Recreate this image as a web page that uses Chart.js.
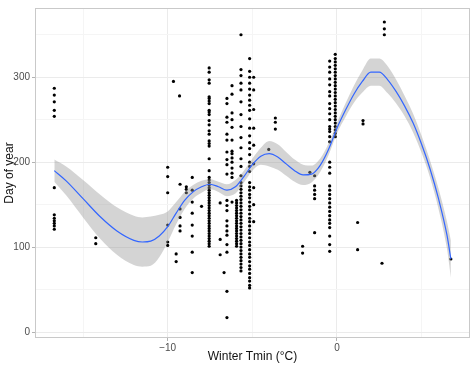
<!DOCTYPE html>
<html>
<head>
<meta charset="utf-8">
<script src="https://cdn.jsdelivr.net/npm/chart.js@4/dist/chart.umd.min.js"></script>
<style>
html,body{margin:0;padding:0;background:#fff;}
#c{display:block;}
</style>
</head>
<body>
<canvas id="c" width="474" height="366"></canvas>
<script>
// ---- Data ----
// Observation columns: x position (Winter Tmin, °C) and the day-of-year values at that x
const colX = [-16.7, -14.25, -10.0, -9.66, -9.3, -9.5, -9.27, -8.9, -8.55, -8.0,
  -7.55, -6.9, -6.67, -6.5, -6.2, -5.93, -5.67, -5.16, -4.92, -4.03, -3.64,
  -2.03, -1.6, -1.32, -0.43, -0.1, 1.54, 1.22, 2.8, 2.66, 6.73];
const colY = [
  [287, 279, 271, 261, 254, 170, 138, 134, 131, 128, 125, 121],
  [111, 104],
  [194, 183, 164, 126, 106, 102],
  [295],
  [278],
  [92, 83],
  [174, 145, 135, 125, 119],
  [171, 168, 164],
  [182, 167, 153, 140, 126, 113, 94, 70],
  [148],
  [311, 306, 297, 293, 277, 275, 272, 269, 261, 259, 256, 249, 244, 237, 233, 225, 222, 219, 204, 190,
   182, 179, 176, 173, 170, 167, 164, 161, 158, 155, 152, 149, 146, 143, 140, 137, 134, 131, 128, 125,
   122, 119, 116, 113, 110, 107, 104, 101],
  [152, 109, 91],
  [70],
  [275, 269, 253, 247, 233, 226, 212, 203, 197, 186, 155, 149, 143, 131, 125, 119, 114, 103, 94, 48, 17],
  [290, 280, 258, 250, 241, 226, 213, 210, 205, 200, 193, 187, 182, 153],
  [155, 152, 149, 146, 143, 140, 137, 134, 131, 128, 125, 122, 119, 116, 113, 110, 107, 104, 101],
  [350, 309, 302, 293, 285, 271, 256, 242, 229, 217, 204, 195, 184, 176, 172, 168, 164, 160, 156, 152,
   148, 144, 140, 136, 132, 128, 124, 120, 116, 112, 108, 104, 100, 96, 92, 88, 84, 80, 76, 72],
  [322, 307, 300, 293, 286, 279, 273, 267, 261, 251, 240, 231, 223, 216, 209, 200, 195, 189, 176, 171,
   167, 162, 158, 153, 148, 144, 139, 134, 130, 125, 120, 116, 111, 106, 102, 97, 92, 88, 83, 78, 74,
   69, 64, 60, 55, 52],
  [300, 285, 262, 240, 220, 198, 170, 150, 130],
  [215],
  [252, 247, 239],
  [101, 93],
  [188],
  [184, 172, 167, 162, 157, 117],
  [319, 312, 306, 298, 291, 283, 278, 269, 263, 257, 250, 242, 239, 236, 230, 224, 200, 194, 187, 172,
   167, 162, 157, 152, 147, 142, 137, 132, 128, 123, 113, 103, 95],
  [327, 322, 318, 314, 310, 306, 302, 298, 294, 290, 286, 282, 278, 274, 270, 266, 262, 258, 254, 250,
   246, 242, 238, 234, 230],
  [249, 245],
  [129, 97],
  [365, 357, 350],
  [81],
  [86]
];

// Smoothed fit (loess) and its confidence band
const smoothX  = [-16.7, -16.0, -15.0, -14.0, -13.0, -12.0, -11.5, -11.0, -10.5, -10.0, -9.5, -9.0, -8.5,
  -8.0, -7.5, -7.0, -6.5, -6.0, -5.5, -5.0, -4.5, -4.0, -3.5, -3.0, -2.5, -2.0, -1.5, -1.0, -0.5,
  0.0, 0.5, 1.0, 1.5, 2.0, 2.5, 3.0, 3.5, 4.0, 4.5, 5.0, 5.5, 6.0, 6.5, 6.73];
const smoothY  = [190, 178, 157, 136, 119, 108, 106, 107, 113, 124, 140, 155, 165,
  171, 174, 171, 167, 171, 183, 197, 207, 210, 206, 198, 190, 185, 186, 196, 215,
  240, 261, 280, 295, 306, 306, 297, 283, 266, 246, 221, 192, 157, 114, 86];
const smoothLo = [177, 161, 135, 110, 91, 79, 77, 78, 88, 106, 127, 145, 157,
  164, 168, 165, 160, 163, 176, 190, 197, 195, 191, 184, 177, 173, 176, 188, 208,
  234, 253, 270, 282, 290, 290, 281, 269, 254, 235, 211, 182, 145, 98, 64];
const smoothHi = [203, 195, 179, 162, 147, 137, 135, 136, 138, 142, 153, 165, 173,
  178, 180, 177, 174, 179, 190, 204, 217, 225, 221, 212, 203, 197, 196, 204, 222,
  246, 269, 290, 308, 322, 322, 313, 297, 278, 257, 231, 202, 169, 130, 108];

const xMajorTicks = [-10, 0];
const yMajorTicks = [0, 100, 200, 300];

// ---- Build datasets ----
const scatterPts = [];
colX.forEach((x, i) => colY[i].forEach(y => scatterPts.push({x: x, y: y})));
const linePts = smoothX.map((x, i) => ({x: x, y: smoothY[i]}));
const loPts = smoothX.map((x, i) => ({x: x, y: smoothLo[i]}));
const hiPts = smoothX.map((x, i) => ({x: x, y: smoothHi[i]}));

const isMajor = (v, list) => list.some(t => Math.abs(t - v) < 1e-6);

const panelBorder = {
  id: 'panelBorder',
  afterDraw(chart) {
    const {ctx, chartArea: a} = chart;
    ctx.save();
    ctx.strokeStyle = '#c9c9c9';
    ctx.lineWidth = 1;
    ctx.strokeRect(Math.round(a.left) + 0.5, Math.round(a.top) + 0.5,
      Math.round(a.right - a.left) - 1, Math.round(a.bottom - a.top) - 1);
    ctx.restore();
  }
};

const tickFont = {family: "'Liberation Sans', Arial, sans-serif", size: 10};
const titleFont = {family: "'Liberation Sans', Arial, sans-serif", size: 12};

new Chart(document.getElementById('c'), {
  type: 'scatter',
  data: {
    datasets: [
      {
        type: 'line', label: 'fit', data: linePts, showLine: true,
        borderColor: '#3366FF', borderWidth: 1.2, pointRadius: 0, fill: false,
        cubicInterpolationMode: 'monotone', order: 1
      },
      {
        type: 'line', label: 'lo', data: loPts, showLine: true,
        borderColor: 'rgba(0,0,0,0)', borderWidth: 0, pointRadius: 0, fill: false,
        cubicInterpolationMode: 'monotone', order: 2
      },
      {
        type: 'line', label: 'hi', data: hiPts, showLine: true,
        borderColor: 'rgba(0,0,0,0)', borderWidth: 0, pointRadius: 0,
        fill: {target: 1}, backgroundColor: 'rgba(153,153,153,0.42)',
        cubicInterpolationMode: 'monotone', order: 2
      },
      {
        label: 'obs', data: scatterPts, pointRadius: 1.6, pointBorderWidth: 0,
        backgroundColor: '#000', borderColor: '#000', order: 3
      }
    ]
  },
  options: {
    responsive: false,
    animation: false,
    devicePixelRatio: 1,
    events: [],
    layout: {padding: {top: 3, right: 4, left: 0, bottom: 0}},
    plugins: {legend: {display: false}, tooltip: {enabled: false}},
    scales: {
      x: {
        type: 'linear', min: -17.84, max: 7.86,
        afterFit(s) { s.height = 28; },
        border: {display: false},
        grid: {
          color: c => isMajor(c.tick.value, xMajorTicks) ? '#ebebeb' : '#f5f5f5',
          tickColor: c => isMajor(c.tick.value, xMajorTicks) ? '#b3b3b3' : 'rgba(0,0,0,0)',
          tickLength: 3, lineWidth: 1
        },
        ticks: {
          stepSize: 5, includeBounds: false, autoSkip: false, maxRotation: 0,
          padding: 1, color: '#4d4d4d', font: tickFont,
          callback: v => isMajor(v, xMajorTicks) ? (v < 0 ? '\u2212' + Math.abs(v) : String(v)) : ''
        },
        title: {display: true, text: 'Winter Tmin (°C)', color: '#111', font: titleFont,
          padding: {top: 0, bottom: 2}}
      },
      y: {
        type: 'linear', min: -7, max: 381.5,
        afterFit(s) { s.width = 35; },
        border: {display: false},
        grid: {
          color: c => isMajor(c.tick.value, yMajorTicks) ? '#ebebeb' : '#f5f5f5',
          tickColor: c => isMajor(c.tick.value, yMajorTicks) ? '#b3b3b3' : 'rgba(0,0,0,0)',
          tickLength: 3, lineWidth: 1
        },
        ticks: {
          stepSize: 50, includeBounds: false, autoSkip: false,
          padding: 2, color: '#4d4d4d', font: tickFont,
          callback: v => isMajor(v, yMajorTicks) ? String(v) : ''
        },
        title: {display: true, text: 'Day of year', color: '#111', font: titleFont,
          padding: {top: 2, bottom: 0}}
      }
    }
  },
  plugins: [panelBorder]
});
</script>
</body>
</html>
